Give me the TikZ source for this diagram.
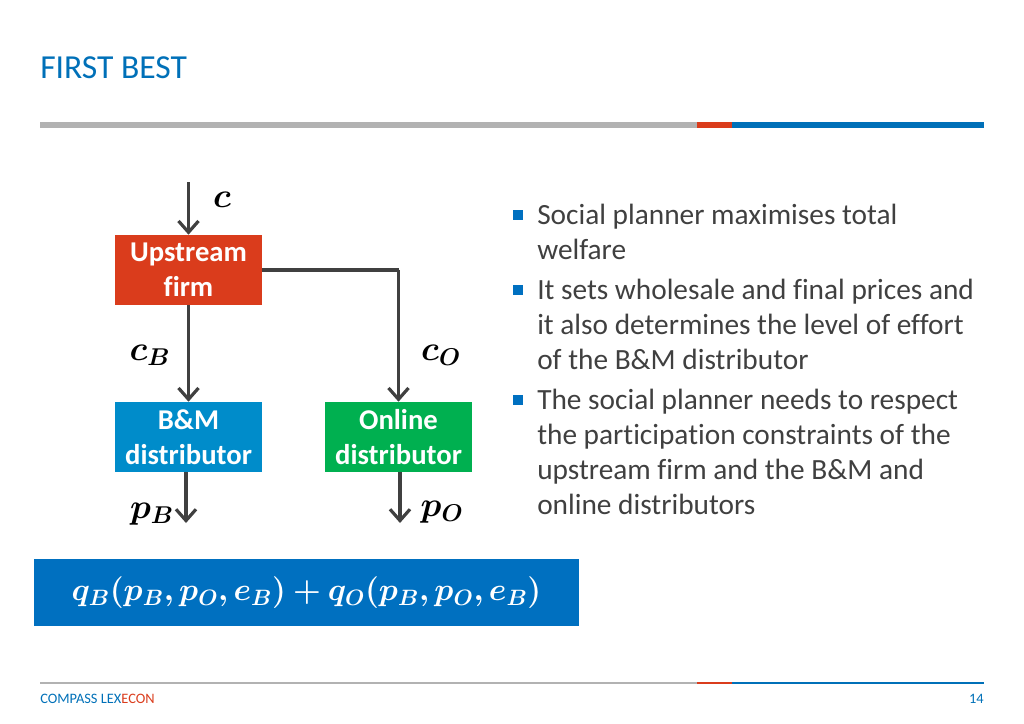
\RequirePackage{fix-cm}
\documentclass[tikz,border=0pt]{standalone}
\usepackage{bm}
\usepackage{fontspec}
\setmainfont[Ligatures=NoCommon]{Carlito}
\usetikzlibrary{arrows.meta,positioning}
\definecolor{clblue}{RGB}{0,112,184}
\definecolor{clred}{RGB}{218,60,28}
\definecolor{clgray}{RGB}{178,178,178}
\definecolor{bmblue}{RGB}{0,140,202}
\definecolor{olgreen}{RGB}{0,176,80}
\definecolor{fmblue}{RGB}{0,112,192}
\definecolor{arrgray}{RGB}{64,64,64}
\definecolor{txtgray}{RGB}{64,64,64}
\tikzset{
  firmbox/.style={fill=#1, text=white, minimum width=110.25pt, minimum height=52.5pt,
    inner sep=0pt, align=center, font=\fontsize{21.5}{26.25}\selectfont\bfseries},
  flow/.style={draw=arrgray, line width=2.6pt, -{Straight Barb[length=8.5pt,width=15pt,line width=2.4pt]}},
  link/.style={draw=arrgray, line width=2.6pt},
  price/.style={text=black, font=\fontsize{26}{30}\selectfont, inner sep=0pt},
  bulletsq/.style={fill=fmblue, minimum size=7.5pt, inner sep=0pt},
  bullettext/.style={anchor=north west, inner sep=0pt, align=left, text=txtgray,
    font=\fontsize{22}{26.25}\selectfont}
}
\begin{document}
\begin{tikzpicture}[x=0.75pt,y=-0.75pt]
  \useasboundingbox (0,0) rectangle (1024,724);
  % header
  \node[anchor=base west, inner sep=0pt, text=clblue, font=\fontsize{25.2}{28}\selectfont] (title) at (40,79) {FIRST BEST};
  \fill[clgray] (40,122) rectangle (697,128);
  \fill[clred] (697,122) rectangle (732,128);
  \fill[clblue] (732,122) rectangle (984,128);
  % firms
  \node[firmbox=clred] (up) at (188.5,270) {Upstream\\firm};
  \node[firmbox=bmblue] (bm) at (188.5,437) {B\&M\\distributor};
  \node[firmbox=olgreen] (ol) at (398.5,437) {Online\\distributor};
  \coordinate (cin) at (188.5,182);
  \coordinate (bend) at (398.5,270);
  \coordinate (pBend) at (186,523);
  \coordinate (pOend) at (400,523);
  \draw[flow] (cin) -- (up.north);
  \draw[flow] (up.south) -- (bm.north);
  \draw[link] (up.east) -- (bend);
  \draw[flow] (bend) -- (ol.north);
  \draw[flow] (bm.south -| pBend) -- (pBend);
  \draw[flow] (ol.south -| pOend) -- (pOend);
  \node[price] (c) at (222,200) {$\bm{c}$};
  \node[price] (cB) at (150,355) {$\bm{c_B}$};
  \node[price] (cO) at (441,355) {$\bm{c_O}$};
  \node[price] (pB) at (152,514) {$\bm{p_B}$};
  \node[price] (pO) at (442,512) {$\bm{p_O}$};
  % total quantity
  \node[fill=fmblue, text=white, minimum width=408.75pt, minimum height=50.25pt, inner sep=0pt,
    font=\fontsize{23.8}{28}\selectfont] (q) at (306.5,592.5)
    {$\bm{q_B(p_B,p_O,e_B)+q_O(p_B,p_O,e_B)}$};
  % bullets
  \node[bulletsq] (b1) at (518,215) {};
  \node[bulletsq] (b2) at (518,290) {};
  \node[bulletsq] (b3) at (518,400) {};
  \node[bullettext] (t1) at (537,204) {Social planner maximises total\\welfare};
  \node[bullettext] (t2) at (537,279) {It sets wholesale and final prices and\\it also determines the level of effort\\of the B\&M distributor};
  \node[bullettext] (t3) at (537,389) {The social planner needs to respect\\the participation constraints of the\\upstream firm and the B\&M and\\online distributors};
  % footer
  \fill[clgray] (40,682) rectangle (697,684);
  \fill[clred] (697,682) rectangle (732,684);
  \fill[clblue] (732,682) rectangle (984,684);
  \node[anchor=base west, inner sep=0pt, font=\fontsize{10.8}{12}\selectfont] (brand) at (40,703)
    {\textcolor{clblue}{COMPASS LEX}\textcolor{clred}{ECON}};
  \node[anchor=base east, inner sep=0pt, text=clblue, font=\fontsize{10.8}{12}\selectfont] (page) at (984,703) {14};
\end{tikzpicture}
\end{document}
